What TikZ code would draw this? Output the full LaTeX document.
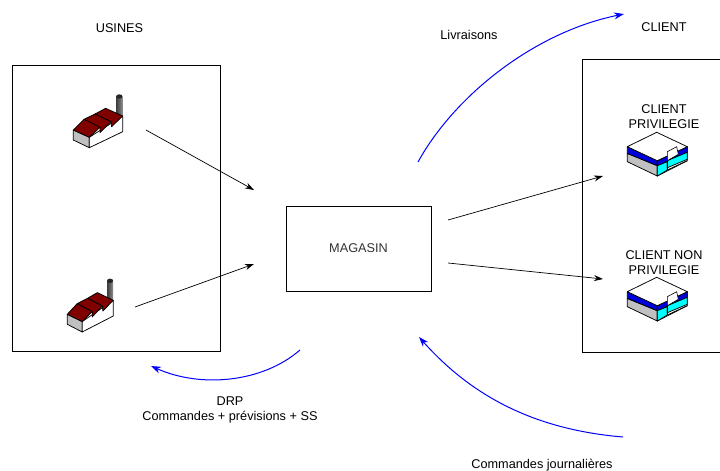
\documentclass[tikz,border=0pt]{standalone}
\usepackage{fontspec}
\setmainfont{Liberation Sans}
\usetikzlibrary{arrows.meta}
\definecolor{brick}{RGB}{128,0,0}
\definecolor{wallgray}{RGB}{192,192,192}
\definecolor{stack}{RGB}{100,100,100}
\definecolor{bandblue}{RGB}{0,0,220}
\definecolor{bandcyan}{RGB}{0,255,255}
\definecolor{magtext}{RGB}{50,50,50}
\tikzset{
  x=1pt,y=-1pt,
  lbl/.style={font=\fontsize{12.7}{15}\selectfont,align=center,inner sep=0pt,text=black},
  frame/.style={draw=black,line width=0.7pt},
  flow/.style={draw=black,line width=0.7pt,-{Stealth[length=9pt,width=6pt]}},
  bflow/.style={draw=blue,line width=1pt,-{Stealth[length=10pt,width=7pt]}},
  ol/.style={draw=black,line width=0.75pt,line join=round},
  pics/factory/.style={code={
    % chimney
    \shade[left color=stack!60!black,right color=stack!70!white,middle color=stack] (42.7,-33) rectangle (49.4,-12);
    \fill[black!85] (46,-33.5) ellipse (3.3 and 2.2);
    % walls
    \filldraw[ol,fill=wallgray] (0,0) -- (0,10) -- (16,17.7) -- (16,7.3) -- cycle;
    \filldraw[ol,fill=white] (16,7.3) -- (16,17.7) -- (49.4,1.7) -- (49.4,-14) -- cycle;
    % roofs, back to front
    \filldraw[ol,fill=brick] (32.3,-21.7) -- (49.4,-14) -- (38.3,-3.3) -- (37.7,-8.3) -- (21.7,-16) -- cycle;
    \filldraw[ol,fill=brick] (21.7,-16) -- (37.7,-8.3) -- (26.7,2.7) -- (26.7,-2.7) -- (10.7,-10.7) -- cycle;
    \filldraw[ol,fill=brick] (10.7,-10.7) -- (26.7,-2.7) -- (16,7.3) -- (0,0) -- cycle;
  }},
  pics/shop/.style={code={
    % grey left wall, blue band
    \filldraw[ol,fill=wallgray] (0,6.7) -- (0,15) -- (30,29.3) -- (30,19) -- cycle;
    \filldraw[ol,fill=bandblue] (0,0) -- (0,6.7) -- (30,19) -- (30,14) -- cycle;
    % right side
    \filldraw[ol,fill=white] (30,14) -- (30,29.3) -- (60,14) -- (60,0) -- cycle;
    \filldraw[ol,fill=bandblue] (30,14) -- (30,19) -- (60,5.6) -- (60,0) -- cycle;
    \filldraw[ol,fill=bandcyan] (30,19) -- (30,29.3) -- (40,23.3) -- (40,15) -- cycle;
    \filldraw[ol,fill=bandcyan] (40,14) -- (40,21) -- (60,12.6) -- (60,5.6) -- cycle;
    \draw[ol] (40,23.3) -- (60,14);
    \draw[ol] (40,14) -- (40,23.3);
    % roof
    \filldraw[ol,fill=white] (0,0) -- (29.4,-14.4) -- (60,0) -- (30,14) -- cycle;
    % door sign
    \filldraw[ol,fill=white,line width=0.6pt] (40,5) -- (49.4,0) -- (51,7.6) -- (40,14) -- cycle;
  }}
}
\begin{document}
\begin{tikzpicture}
\useasboundingbox (0,0) rectangle (720,471);
\node[frame,minimum width=208pt,minimum height=286pt,inner sep=0pt] (usines) at (116,208) {};
\node[frame,minimum width=145pt,minimum height=85pt,inner sep=0pt,font=\fontsize{12.7}{15}\selectfont,text=magtext] (magasin) at (358.5,248.5) {MAGASIN};
\coordinate (cTL) at (720,59);
\coordinate (cTLc) at (582,59);
\coordinate (cBLc) at (582,352);
\coordinate (cBL) at (720,352);
\draw[frame] (cTL) -- (cTLc) -- (cBLc) -- (cBL);

\pic at (73.3,130) {factory};
\pic[xscale=0.93] at (67.3,314.3) {factory};
\pic at (627.3,146.7) {shop};
\pic at (627.3,291.7) {shop};

\node[lbl] (tusines) at (119.5,28) {USINES};
\node[lbl] (tlivr) at (469,35) {Livraisons};
\node[lbl] (tclient) at (664,27) {CLIENT};
\node[lbl] (tpriv) at (664,117) {CLIENT\\PRIVILEGIE};
\node[lbl] (tnon) at (664,263) {CLIENT NON\\PRIVILEGIE};
\node[lbl] (tdrp) at (230,409.5) {DRP\\Commandes + prévisions + SS};
\node[lbl] (tcmd) at (542,465) {Commandes journalières};

\coordinate (a1s) at (146,130); \coordinate (a1e) at (254,190);
\coordinate (a2s) at (135,307); \coordinate (a2e) at (254,264);
\coordinate (a3s) at (448,220); \coordinate (a3e) at (603,176);
\coordinate (a4s) at (448,263); \coordinate (a4e) at (603,279);
\draw[flow] (a1s) -- (a1e);
\draw[flow] (a2s) -- (a2e);
\draw[flow] (a3s) -- (a3e);
\draw[flow] (a4s) -- (a4e);

\coordinate (b1s) at (418,162); \coordinate (b1e) at (624,14);
\coordinate (b2s) at (300,350); \coordinate (b2e) at (151,366);
\coordinate (b3s) at (623,437); \coordinate (b3e) at (419,337);
\draw[bflow] (b1s) .. controls (455,95) and (535,32) .. (b1e);
\draw[bflow] (b2s) .. controls (262,383) and (200,388) .. (b2e);
\draw[bflow] (b3s) .. controls (540,430) and (475,400) .. (b3e);
\end{tikzpicture}
\end{document}
